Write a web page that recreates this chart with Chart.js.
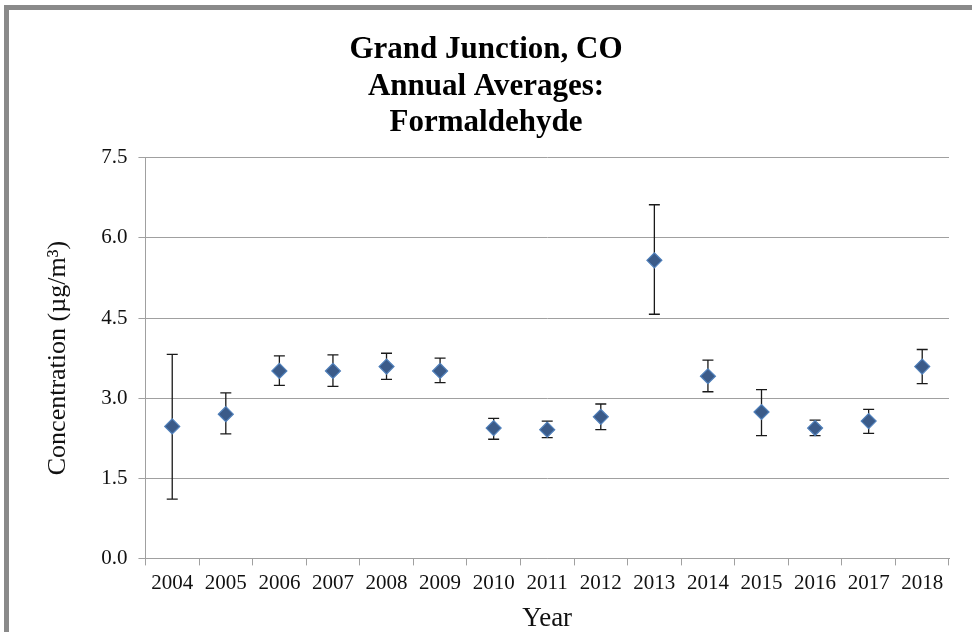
<!DOCTYPE html>
<html>
<head>
<meta charset="utf-8">
<script src="https://cdn.jsdelivr.net/npm/chart.js@4.4.1/dist/chart.umd.min.js"></script>
<style>
  html, body { margin: 0; padding: 0; background: #fff; }
  #wrap { position: relative; width: 972px; height: 632px; overflow: hidden; }
  #frameTop { position: absolute; left: 4px; top: 5px; width: 968px; height: 5px; background: #8a8a8a; }
  #frameLeft { position: absolute; left: 4px; top: 5px; width: 5px; height: 627px; background: #8a8a8a; }
  canvas { position: absolute; left: 0; top: 0; }
</style>
</head>
<body>
<div id="wrap">
  <canvas id="c" width="972" height="632"></canvas>
  <div id="frameTop"></div>
  <div id="frameLeft"></div>
</div>
<script>
const years = ['2004','2005','2006','2007','2008','2009','2010','2011','2012','2013','2014','2015','2016','2017','2018'];
const means = [2.47, 2.70, 3.51, 3.51, 3.59, 3.51, 2.44, 2.41, 2.65, 5.58, 3.41, 2.74, 2.44, 2.57, 3.59];
const lower = [1.11, 2.33, 3.24, 3.22, 3.35, 3.29, 2.23, 2.26, 2.41, 4.57, 3.12, 2.30, 2.30, 2.34, 3.27];
const upper = [3.82, 3.10, 3.79, 3.81, 3.84, 3.75, 2.62, 2.57, 2.89, 6.62, 3.71, 3.16, 2.59, 2.79, 3.91];
const yTickValues = [0, 1.5, 3.0, 4.5, 6.0, 7.5];
const titleLines = ['Grand Junction, CO', 'Annual Averages:', 'Formaldehyde'];

const errorBars = {
  id: 'errorBars',
  beforeDatasetsDraw(chart) {
    const ctx = chart.ctx;
    const xs = chart.scales.x, ys = chart.scales.y;
    ctx.save();
    ctx.strokeStyle = '#1a1a1a';
    ctx.lineWidth = 1.3;
    for (let i = 0; i < means.length; i++) {
      const x = xs.getPixelForValue(i);
      const yt = ys.getPixelForValue(upper[i]);
      const yb = ys.getPixelForValue(lower[i]);
      ctx.beginPath();
      ctx.moveTo(x, yt); ctx.lineTo(x, yb);
      ctx.moveTo(x - 5.5, yt); ctx.lineTo(x + 5.5, yt);
      ctx.moveTo(x - 5.5, yb); ctx.lineTo(x + 5.5, yb);
      ctx.stroke();
    }
    ctx.restore();
  }
};

new Chart(document.getElementById('c'), {
  type: 'line',
  data: {
    labels: years,
    datasets: [{
      data: means,
      showLine: false,
      pointStyle: 'rectRot',
      pointRadius: 7.5,
      pointHoverRadius: 7.5,
      backgroundColor: '#3b5b89',
      borderColor: '#5080bb',
      pointBorderWidth: 1.2
    }]
  },
  options: {
    responsive: false,
    animation: false,
    events: [],
    layout: { padding: { left: 23, right: 23, top: 0, bottom: -3 } },
    plugins: {
      legend: { display: false },
      tooltip: { enabled: false },
      title: {
        display: true,
        text: titleLines,
        color: '#000',
        font: { family: 'Liberation Serif', size: 31, weight: 'bold', lineHeight: 1.18 },
        padding: { top: 32, bottom: 16 }
      }
    },
    scales: {
      x: {
        type: 'category',
        offset: true,
        grid: { display: true, drawOnChartArea: false, drawTicks: true, tickLength: 7, color: '#a0a0a0', offset: true },
        border: { display: true, color: '#a0a0a0', width: 1 },
        ticks: { color: '#111', font: { family: 'Liberation Serif', size: 21 }, padding: 5, maxRotation: 0, autoSkip: false },
        title: { display: true, text: 'Year', color: '#111', font: { family: 'Liberation Serif', size: 27 }, padding: { top: 2, bottom: 0 } }
      },
      y: {
        min: 0, max: 7.5,
        afterBuildTicks(scale) { scale.ticks = yTickValues.map(v => ({ value: v })); },
        grid: { color: '#a0a0a0', lineWidth: 1, tickLength: 7 },
        border: { display: true, color: '#a0a0a0', width: 1 },
        ticks: { color: '#111', font: { family: 'Liberation Serif', size: 21 }, padding: 11, callback: v => v.toFixed(1) },
        title: { display: true, text: 'Concentration (µg/m³)', color: '#111', font: { family: 'Liberation Serif', size: 26 }, padding: { top: 20, bottom: 16 } }
      }
    }
  },
  plugins: [errorBars]
});
</script>
</body>
</html>
